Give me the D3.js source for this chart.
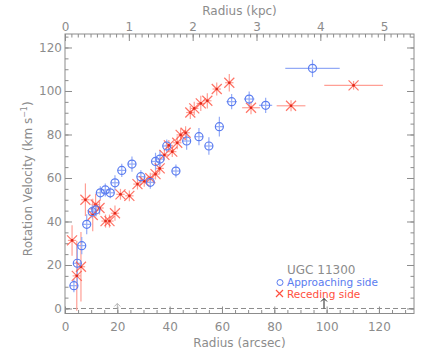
<!DOCTYPE html>
<html><head><meta charset="utf-8">
<script src="https://cdn.jsdelivr.net/npm/d3@7"></script>
<style>body{margin:0;background:#fff}svg{display:block}text{font-family:"DejaVu Sans",sans-serif}</style>
</head><body>
<script>
// Approaching side: [radius arcsec, velocity, vErr, rErr]
const approachR   = [3.4, 4.7, 6.4, 8.3, 10.4, 11.8, 13.5, 15.4, 17.3, 19.1, 21.7, 25.6, 29.0, 32.6, 34.6, 36.3, 38.9, 42.4, 46.5, 51.2, 55.0, 59.0, 63.7, 70.4, 76.7, 94.6];
const approachV   = [10.5, 20.8, 28.9, 38.7, 44.5, 45.3, 53.2, 54.5, 53.2, 57.8, 63.5, 66.4, 60.6, 58.0, 67.6, 68.7, 74.7, 63.2, 77.0, 79.0, 74.7, 83.6, 95.1, 96.3, 93.4, 110.4];
const approachErr = [3, 9, 4, 4.6, 3, 3, 3, 3, 2.5, 3.5, 3, 3.5, 3, 3, 4, 4, 3, 3, 4, 4, 4, 4.5, 3.5, 3.5, 3.5, 4];
const approachRErr= [0, 0, 0, 0, 0, 0, 0, 0, 0, 0, 0, 0, 0, 0, 0, 0, 0, 0, 0, 0, 0, 0, 2, 2, 2.5, 10.4];
// Receding side
const recedeR   = [2.7, 4.5, 6.1, 7.8, 10.6, 11.7, 13.2, 15.5, 17.0, 19.1, 21.2, 24.6, 27.7, 30.3, 32.6, 34.6, 36.2, 38.0, 39.7, 41.0, 42.9, 44.2, 46.1, 47.9, 49.4, 51.9, 54.4, 58.0, 62.8, 71.1, 86.4, 110.3];
const recedeV   = [31.3, 15.0, 19.2, 50.0, 43.0, 47.8, 46.2, 40.2, 40.2, 43.8, 52.5, 51.8, 57.2, 58.5, 59.9, 61.8, 64.4, 70.6, 75.0, 72.1, 76.2, 79.8, 80.8, 90.1, 92.0, 94.3, 95.5, 100.9, 103.8, 92.3, 93.2, 102.6];
const recedeErr = [7, 16, 16, 7.5, 7.5, 5, 3, 3, 3, 3.5, 2.5, 2.5, 2.5, 2.5, 2.5, 2.5, 2.5, 2.5, 2.5, 2.5, 3, 3, 3, 3, 3, 3.5, 3.5, 3, 4, 3, 2.5, 2];
const recedeRErr= [0, 0, 0, 0, 0, 0, 0, 0, 0, 0, 0, 0, 0, 0, 0, 0, 0, 0, 0, 0, 0, 0, 0, 0, 0, 0, 0, 0, 0, 3.4, 5.5, 11.2];
const xTicks = [0, 20, 40, 60, 80, 100, 120];
const kpcTicks = [0, 1, 2, 3, 4, 5];
const yTicks = [0, 20, 40, 60, 80, 100, 120];
const arcsecPerKpc = 24.4;
const arrowsAt = [20, 99];

const W = 436, H = 349;
const L = 65, R = 414, T = 34, B = 313.5;
const grey = "#8c8c8c";
const blue = "#5a7cf0", blueErr = "#93aaf6";
const red = "#ff5040", redErr = "#ff9f95";

const x = d3.scaleLinear().domain([0, 133.4]).range([L, R]);
const xk = d3.scaleLinear().domain([0, 133.4 / arcsecPerKpc]).range([L, R]);
const y = d3.scaleLinear().domain([-2.3, 126.2]).range([B, T]);

const svg = d3.select("body").append("svg").attr("width", W).attr("height", H);

// frame
svg.append("rect").attr("x", L).attr("y", T).attr("width", R - L).attr("height", B - T)
  .attr("fill", "none").attr("stroke", grey).attr("stroke-width", 1);

function tickAxis(g, axis) { g.call(axis); g.select(".domain").remove(); g.selectAll("line").attr("stroke", grey); g.selectAll("text").attr("fill", grey).attr("font-size", 12); }

// bottom
const xMinor = d3.range(0, 134, 5);
svg.append("g").attr("transform", `translate(0,${B})`).call(g => tickAxis(g, d3.axisBottom(x).tickValues(xMinor).tickSize(-3.5).tickFormat("")));
svg.append("g").attr("transform", `translate(0,${B})`).call(g => tickAxis(g, d3.axisBottom(x).tickValues(xTicks).tickSize(-7).tickPadding(9).tickFormat(d3.format("d"))));
// top
const kMinor = d3.range(0, 5.47, 0.1);
svg.append("g").attr("transform", `translate(0,${T})`).call(g => tickAxis(g, d3.axisTop(xk).tickValues(kMinor).tickSize(-3.5).tickFormat("")));
svg.append("g").attr("transform", `translate(0,${T})`).call(g => tickAxis(g, d3.axisTop(xk).tickValues(kpcTicks).tickSize(-7).tickPadding(3).tickFormat(d3.format("d"))));
// left
const yMinor = d3.range(0, 126, 5);
svg.append("g").attr("transform", `translate(${L},0)`).call(g => tickAxis(g, d3.axisLeft(y).tickValues(yMinor).tickSize(-3.5).tickFormat("")));
svg.append("g").attr("transform", `translate(${L},0)`).call(g => tickAxis(g, d3.axisLeft(y).tickValues(yTicks).tickSize(-7).tickPadding(3).tickFormat(d3.format("d"))));
// right
svg.append("g").attr("transform", `translate(${R},0)`).call(g => tickAxis(g, d3.axisRight(y).tickValues(yMinor).tickSize(-3.5).tickFormat("")));
svg.append("g").attr("transform", `translate(${R},0)`).call(g => tickAxis(g, d3.axisRight(y).tickValues(yTicks).tickSize(-7).tickFormat("")));

// axis titles
svg.append("text").attr("x", (L + R) / 2).attr("y", 347).attr("text-anchor", "middle").attr("fill", grey).attr("font-size", 12).text("Radius (arcsec)");
svg.append("text").attr("x", (L + R) / 2).attr("y", 15).attr("text-anchor", "middle").attr("fill", grey).attr("font-size", 12).text("Radius (kpc)");
const yl = svg.append("text").attr("transform", `translate(32,${(T + B) / 2 + 5}) rotate(-90)`).attr("text-anchor", "middle").attr("fill", grey).attr("font-size", 12);
yl.append("tspan").text("Rotation Velocity (km s");
yl.append("tspan").attr("dy", -5).attr("font-size", 8).text("−1");
yl.append("tspan").attr("dy", 5).text(")");

// zero dashed line
svg.append("line").attr("x1", L).attr("x2", R).attr("y1", y(0)).attr("y2", y(0))
  .attr("stroke", grey).attr("stroke-dasharray", "5,3");

// arrows
arrowsAt.forEach((a, i) => {
  const col = i === 0 ? "#b5b5b5" : "#222";
  const h = i === 0 ? 5 : 10;
  const g = svg.append("g").attr("stroke", col).attr("fill", "none").attr("stroke-width", 1);
  g.append("line").attr("x1", x(a)).attr("x2", x(a)).attr("y1", y(0)).attr("y2", y(0) - h);
  g.append("path").attr("d", `M${x(a) - 3},${y(0) - h + 3}L${x(a)},${y(0) - h}L${x(a) + 3},${y(0) - h + 3}`);
});

const plot = svg.append("g");
const apData = approachR.map((r, i) => ({ r, v: approachV[i], e: approachErr[i], re: approachRErr[i] }));
const reData = recedeR.map((r, i) => ({ r, v: recedeV[i], e: recedeErr[i], re: recedeRErr[i] }));

function errBars(data, col) {
  const g = plot.append("g").attr("stroke", col).attr("stroke-width", 1.2);
  data.forEach(d => {
    g.append("line").attr("x1", x(d.r)).attr("x2", x(d.r)).attr("y1", y(Math.max(d.v - d.e, -2.3))).attr("y2", y(d.v + d.e));
    const rr = Math.max(d.re, 1.6);
    g.append("line").attr("x1", x(d.r - rr)).attr("x2", x(d.r + rr)).attr("y1", y(d.v)).attr("y2", y(d.v));
  });
}
errBars(reData, redErr);
errBars(apData, blueErr);

// receding: X marks
const rg = plot.append("g");
reData.forEach(d => {
  const cx = x(d.r), cy = y(d.v), s = 5;
  rg.append("path").attr("d", `M${cx - s},${cy - s}L${cx + s},${cy + s}M${cx - s},${cy + s}L${cx + s},${cy - s}`)
    .attr("stroke", red).attr("stroke-width", 1.2).attr("fill", "none").attr("opacity", 0.8);
  rg.append("circle").attr("cx", cx).attr("cy", cy).attr("r", 1.3).attr("fill", "#e0281a");
});
// approaching: circles
plot.append("g").selectAll("circle").data(apData).join("circle")
  .attr("cx", d => x(d.r)).attr("cy", d => y(d.v)).attr("r", 4)
  .attr("fill", "none").attr("stroke", blue).attr("stroke-width", 1.2);

// legend
svg.append("text").attr("x", 287).attr("y", 274).attr("fill", grey).attr("font-size", 12).text("UGC 11300");
svg.append("circle").attr("cx", 280).attr("cy", 282.5).attr("r", 3).attr("fill", "none").attr("stroke", blue).attr("stroke-width", 1);
svg.append("text").attr("x", 287).attr("y", 286).attr("fill", blue).attr("font-size", 10.5).text("Approaching side");
svg.append("path").attr("d", "M276,290L283,297M276,297L283,290").attr("stroke", red).attr("stroke-width", 1.2);
svg.append("text").attr("x", 287).attr("y", 298).attr("fill", red).attr("font-size", 10.5).text("Receding side");
</script>
</body></html>
